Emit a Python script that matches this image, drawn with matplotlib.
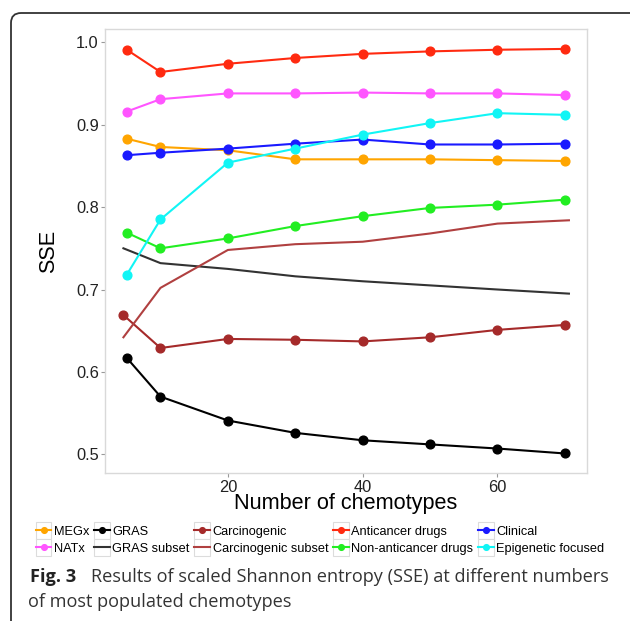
import matplotlib
matplotlib.use("Agg")
import matplotlib.pyplot as plt
from matplotlib.legend_handler import HandlerLine2D
from matplotlib.patches import Rectangle, FancyBboxPatch

plt.rcParams["font.family"] = ["Liberation Sans", "DejaVu Sans"]

# values
chemotypes = [5, 10, 20, 30, 40, 50, 60, 70]
chemotypes_carc = [4.5, 10, 20, 30, 40, 50, 60, 70]
chemotypes_subset = [4.5, 10, 20, 30, 40, 50, 60, 70.6]

megx = [0.883, 0.873, 0.869, 0.858, 0.858, 0.858, 0.857, 0.856]
natx = [0.916, 0.931, 0.938, 0.938, 0.939, 0.938, 0.938, 0.936]
gras = [0.617, 0.570, 0.541, 0.526, 0.517, 0.512, 0.507, 0.501]
gras_subset = [0.750, 0.732, 0.725, 0.716, 0.710, 0.705, 0.700, 0.695]
carcinogenic = [0.669, 0.629, 0.640, 0.639, 0.637, 0.642, 0.651, 0.657]
carcinogenic_subset = [0.642, 0.702, 0.748, 0.755, 0.758, 0.768, 0.780, 0.784]
anticancer = [0.991, 0.964, 0.974, 0.981, 0.986, 0.989, 0.991, 0.992]
non_anticancer = [0.769, 0.750, 0.762, 0.777, 0.789, 0.799, 0.803, 0.809]
clinical = [0.863, 0.866, 0.871, 0.877, 0.882, 0.876, 0.876, 0.877]
epigenetic = [0.718, 0.785, 0.854, 0.871, 0.888, 0.902, 0.914, 0.912]

yticks = [0.5, 0.6, 0.7, 0.8, 0.9, 1.0]
xticks = [20, 40, 60]


class BoxedHandler(HandlerLine2D):
    # ggplot-like legend key with a thin grey box
    def create_artists(self, legend, orig_handle, xdescent, ydescent,
                       width, height, fontsize, trans):
        arts = super().create_artists(legend, orig_handle, xdescent, ydescent,
                                      width, height, fontsize, trans)
        box = Rectangle((-xdescent, -ydescent - 2), width, height + 4,
                        facecolor="white", edgecolor="#dcdcdc", lw=0.8,
                        transform=trans)
        return [box] + arts


fig = plt.figure(figsize=(6.3, 6.21), dpi=100)
ax = fig.add_axes([0.1667, 0.2378, 0.7646, 0.715])

mk = dict(marker="o", markersize=6.3, linewidth=1.5)

ax.plot(chemotypes, megx, color="#FFA500", label="MEGx", **mk)
ax.plot(chemotypes, natx, color="#FF55FF", label="NATx", **mk)
ax.plot(chemotypes, gras, color="black", label="GRAS", **mk)
ax.plot(chemotypes_subset, gras_subset, color="#333333", lw=1.5,
        label="GRAS subset")
ax.plot(chemotypes_carc, carcinogenic, color="#A52A2A", label="Carcinogenic", **mk)
ax.plot(chemotypes_subset, carcinogenic_subset, color="#B04040", lw=1.5,
        label="Carcinogenic subset")
ax.plot(chemotypes, anticancer, color="#FF2A10", label="Anticancer drugs", **mk)
ax.plot(chemotypes, non_anticancer, color="#22EE22", label="Non-anticancer drugs", **mk)
ax.plot(chemotypes, clinical, color="#1A1AFF", label="Clinical", **mk)
ax.plot(chemotypes, epigenetic, color="#11F5F5", label="Epigenetic focused", **mk)

ax.set_xlim(1.77, 73.24)
ax.set_ylim(0.4769, 1.0158)
ax.set_xticks(xticks)
ax.set_yticks(yticks)
ax.set_yticklabels([f"{v:.1f}" for v in yticks])
ax.tick_params(length=3, width=0.8, color="#999999", labelsize=11.8,
               labelcolor="#222222", pad=1.5)
for s in ax.spines.values():
    s.set_color("#d9d9d9")
    s.set_linewidth(1.0)

ax.set_xlabel("Number of chemotypes", fontsize=15.6, labelpad=-1)
ax.set_ylabel("SSE", fontsize=15.6, labelpad=12)

handles, labels = ax.get_legend_handles_labels()
fig.legend(handles, labels, ncol=5, loc="center",
           bbox_to_anchor=(0.508, 0.1305), frameon=False, fontsize=9.2,
           handlelength=1.25, handleheight=1.0, handletextpad=0.2,
           columnspacing=0.35, labelspacing=0.3, borderpad=0,
           markerscale=0.65,
           handler_map={h: BoxedHandler() for h in handles})

fig.text(30 / 630, 1 - 577 / 621, "Fig. 3", fontsize=13.1, fontweight="bold",
         family="Open Sans", color="#222222", va="center")
fig.text(91 / 630, 1 - 577 / 621,
         "Results of scaled Shannon entropy (SSE) at different numbers",
         fontsize=13.1, family="Open Sans", color="#333333", va="center")
fig.text(28 / 630, 1 - 602 / 621, "of most populated chemotypes",
         fontsize=13.1, family="Open Sans", color="#333333", va="center")

frame = FancyBboxPatch((11 / 630, -0.05), 1.05, 1.05 - 13 / 621,
                       boxstyle="round,pad=0,rounding_size=0.016",
                       transform=fig.transFigure, facecolor="none",
                       edgecolor="#333333", lw=1.3, clip_on=False)
fig.add_artist(frame)

fig.savefig("out.png", dpi=100)
plt.close(fig)
